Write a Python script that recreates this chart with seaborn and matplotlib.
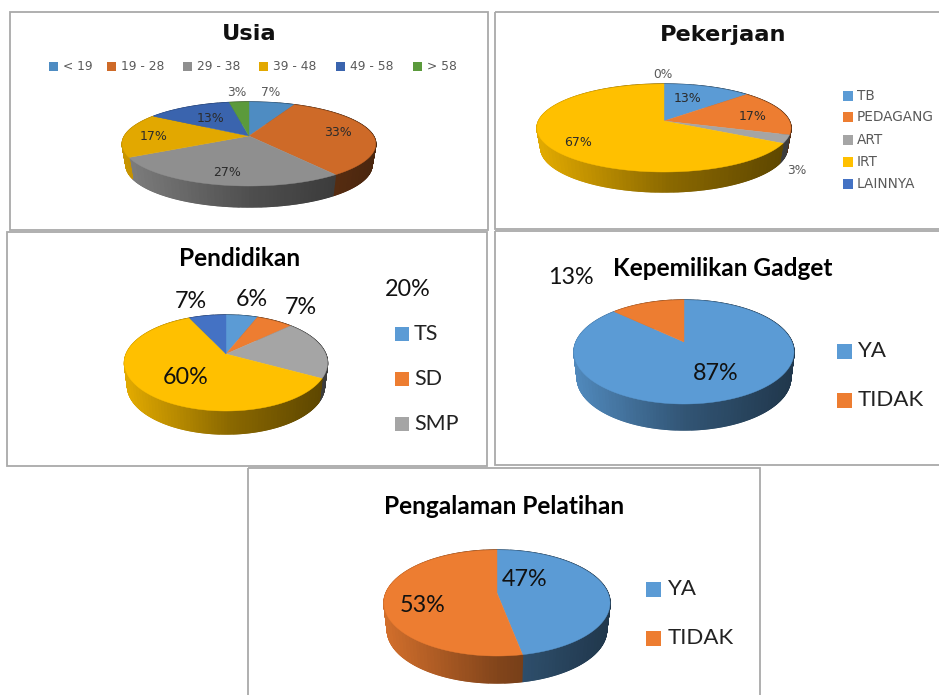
import numpy as np
import matplotlib
matplotlib.use("Agg")
import matplotlib.pyplot as plt
from matplotlib.patches import Rectangle
import seaborn as sns

usia_labels = ['< 19', '19 - 28', '29 - 38', '39 - 48', '49 - 58', '> 58']
usia_values = [7, 33, 27, 17, 13, 3]
kerja_labels = ['TB', 'PEDAGANG', 'ART', 'IRT', 'LAINNYA']
kerja_values = [13, 17, 3, 67, 0]
didik_labels = ['TS', 'SD', 'SMP']
didik_values = [6, 7, 20, 60, 7]
gadget_labels = ['YA', 'TIDAK']
gadget_values = [87, 13]
latih_labels = ['YA', 'TIDAK']
latih_values = [47, 53]

office = ['#5B9BD5', '#ED7D31', '#A5A5A5', '#FFC000', '#4472C4']
usia_colors = ['#4E8CC2', '#CE6A28', '#8F8F8F', '#E2A800', '#3A64AE', '#5B9A3C']

sns.set_theme(style='white')
plt.rcParams['font.family'] = ['Lato', 'DejaVu Sans']

fig = plt.figure(figsize=(9.39, 6.95), dpi=100)
ax = fig.add_axes([0, 0, 1, 1])
ax.set_xlim(0, 939)
ax.set_ylim(695, 0)
ax.axis('off')


def pie3d(values, colors, cx, cy, left, right, top, bottom, depth):
    # fake Excel 3D pie: project the circle with a bit of perspective
    t, d = cy - top, bottom - cy
    k = (d - t) / (d + t)
    b = t * (1 + k)
    hw = (right - left) / 2
    a = hw * np.sqrt(1 - k ** 2)
    mid = (left + right) / 2
    ends = np.cumsum(values) / np.sum(values) * 2 * np.pi
    starts = np.r_[0, ends[:-1]]
    walls = []
    tops = []
    for v, s, e, c in zip(values, starts, ends, colors):
        if v == 0:
            continue
        th = np.linspace(s, e, max(int((e - s) * 120), 3))
        w = 1 + k * np.cos(th)
        x = cx + a * np.sin(th) / w
        y = cy - b * np.cos(th) / w
        # bottom rim is a little narrower than the top one
        xb = mid + (x - mid) * 0.97
        rgb = np.array(matplotlib.colors.to_rgb(c))
        shades = sns.blend_palette([tuple(rgb * 0.88), tuple(rgb * 0.55), tuple(rgb * 0.36)], n_colors=64)
        for i in range(len(th) - 1):
            pos = ((x[i] + x[i + 1]) / 2 - left) / (right - left)
            col = shades[int(np.clip(pos, 0, 0.999) * 64)]
            walls.append(([x[i], x[i + 1], xb[i + 1], xb[i]],
                          [y[i], y[i + 1], y[i + 1] + depth, y[i] + depth], col))
        tops.append((np.r_[cx, x], np.r_[cy, y], c))
    for xs, ys, col in walls:
        ax.fill(xs, ys, color=col, lw=1.0, zorder=2)
    for xs, ys, col in tops:
        ax.fill(xs, ys, color=col, lw=0.3, zorder=3)


def frame(x0, y0, x1, y1):
    ax.add_patch(Rectangle((x0, y0), x1 - x0, y1 - y0, fill=False,
                           ec='#A9A9A9', lw=1.3, zorder=1))


def legend(labels, colors, xs, ys, size, tx, font, fs, col):
    for lab, c, x, y in zip(labels, colors, xs, ys):
        ax.add_patch(Rectangle((x, y - size / 2), size, size, color=c, lw=0, zorder=4))
        ax.text(x + tx, y, lab, family=font, fontsize=fs, color=col, va='center', ha='left', zorder=5)


def labels(items, font, fs, col, weight='normal'):
    for txt, x, y in items:
        ax.text(x, y, txt, family=font, fontsize=fs, color=col, weight=weight,
                ha='center', va='center', zorder=5)


frame(10, 12, 488, 230)
frame(495, 12, 945, 229)
frame(7, 232, 487, 466)
frame(495, 231, 945, 465)
frame(248, 468, 760, 700)

# Usia
pie3d(usia_values, usia_colors, 249, 136, 122.5, 376, 102, 186, 21)
ax.text(249, 34, 'Usia', family='DejaVu Sans', fontsize=16.2, weight='bold', color='#111111', ha='center', va='center')
legend(usia_labels, usia_colors, [49, 107, 183, 259, 336, 413], [66] * 6, 9, 14, 'DejaVu Sans', 8.8, '#595959')
labels([(f'{usia_values[5]}%', 237, 93), (f'{usia_values[0]}%', 271, 93)], 'DejaVu Sans', 8.8, '#595959')
labels([(f'{usia_values[1]}%', 338, 133), (f'{usia_values[2]}%', 227, 173),
        (f'{usia_values[3]}%', 154, 137), (f'{usia_values[4]}%', 211, 118)], 'DejaVu Sans', 9, '#2b2b2b')

# Pekerjaan
pie3d(kerja_values, office, 664, 121, 538, 792, 84, 172, 20)
ax.text(723, 35, 'Pekerjaan', family='DejaVu Sans', fontsize=16.2, weight='bold', color='#111111', ha='center', va='center')
legend(kerja_labels, office, [843] * 5, [96, 117, 140, 162, 184], 10, 14, 'DejaVu Sans', 9.8, '#595959')
labels([(f'{kerja_values[4]}%', 663, 74), (f'{kerja_values[2]}%', 797, 171)], 'DejaVu Sans', 8.8, '#595959')
labels([(f'{kerja_values[0]}%', 688, 99), (f'{kerja_values[1]}%', 753, 117),
        (f'{kerja_values[3]}%', 578, 143)], 'DejaVu Sans', 9, '#2b2b2b')

# Pendidikan
pie3d(didik_values, office, 226, 354, 125, 328, 315, 411, 23)
ax.text(240, 258, 'Pendidikan', family='Lato', fontsize=17.6, weight='bold', color='#000000', ha='center', va='center')
legend(didik_labels, office, [395] * 3, [334, 379, 424], 14, 19, 'Lato', 15.5, '#222222')
labels([(f'{didik_values[4]}%', 191, 301), (f'{didik_values[0]}%', 252, 300), (f'{didik_values[1]}%', 301, 308),
        (f'{didik_values[2]}%', 408, 289), (f'{didik_values[3]}%', 186, 377)], 'Lato', 16.8, '#111111')

# Kepemilikan Gadget
pie3d(gadget_values, office, 684, 342, 573, 793, 300, 404, 26)
ax.text(723, 268, 'Kepemilikan Gadget', family='Lato', fontsize=17.6, weight='bold', color='#000000', ha='center', va='center')
legend(gadget_labels, office, [837] * 2, [351, 400], 15, 21, 'Lato', 16, '#222222')
labels([(f'{gadget_values[1]}%', 571, 277), (f'{gadget_values[0]}%', 716, 373)], 'Lato', 16.8, '#111111')

# Pengalaman Pelatihan
pie3d(latih_values, office, 497, 593, 383, 609, 550, 656, 27)
ax.text(504, 507, 'Pengalaman Pelatihan', family='Lato', fontsize=17.6, weight='bold', color='#000000', ha='center', va='center')
legend(latih_labels, office, [646] * 2, [589, 638], 15, 22, 'Lato', 16, '#222222')
labels([(f'{latih_values[0]}%', 525, 579), (f'{latih_values[1]}%', 423, 605)], 'Lato', 16.8, '#111111')

fig.savefig('out.png', dpi=100)
